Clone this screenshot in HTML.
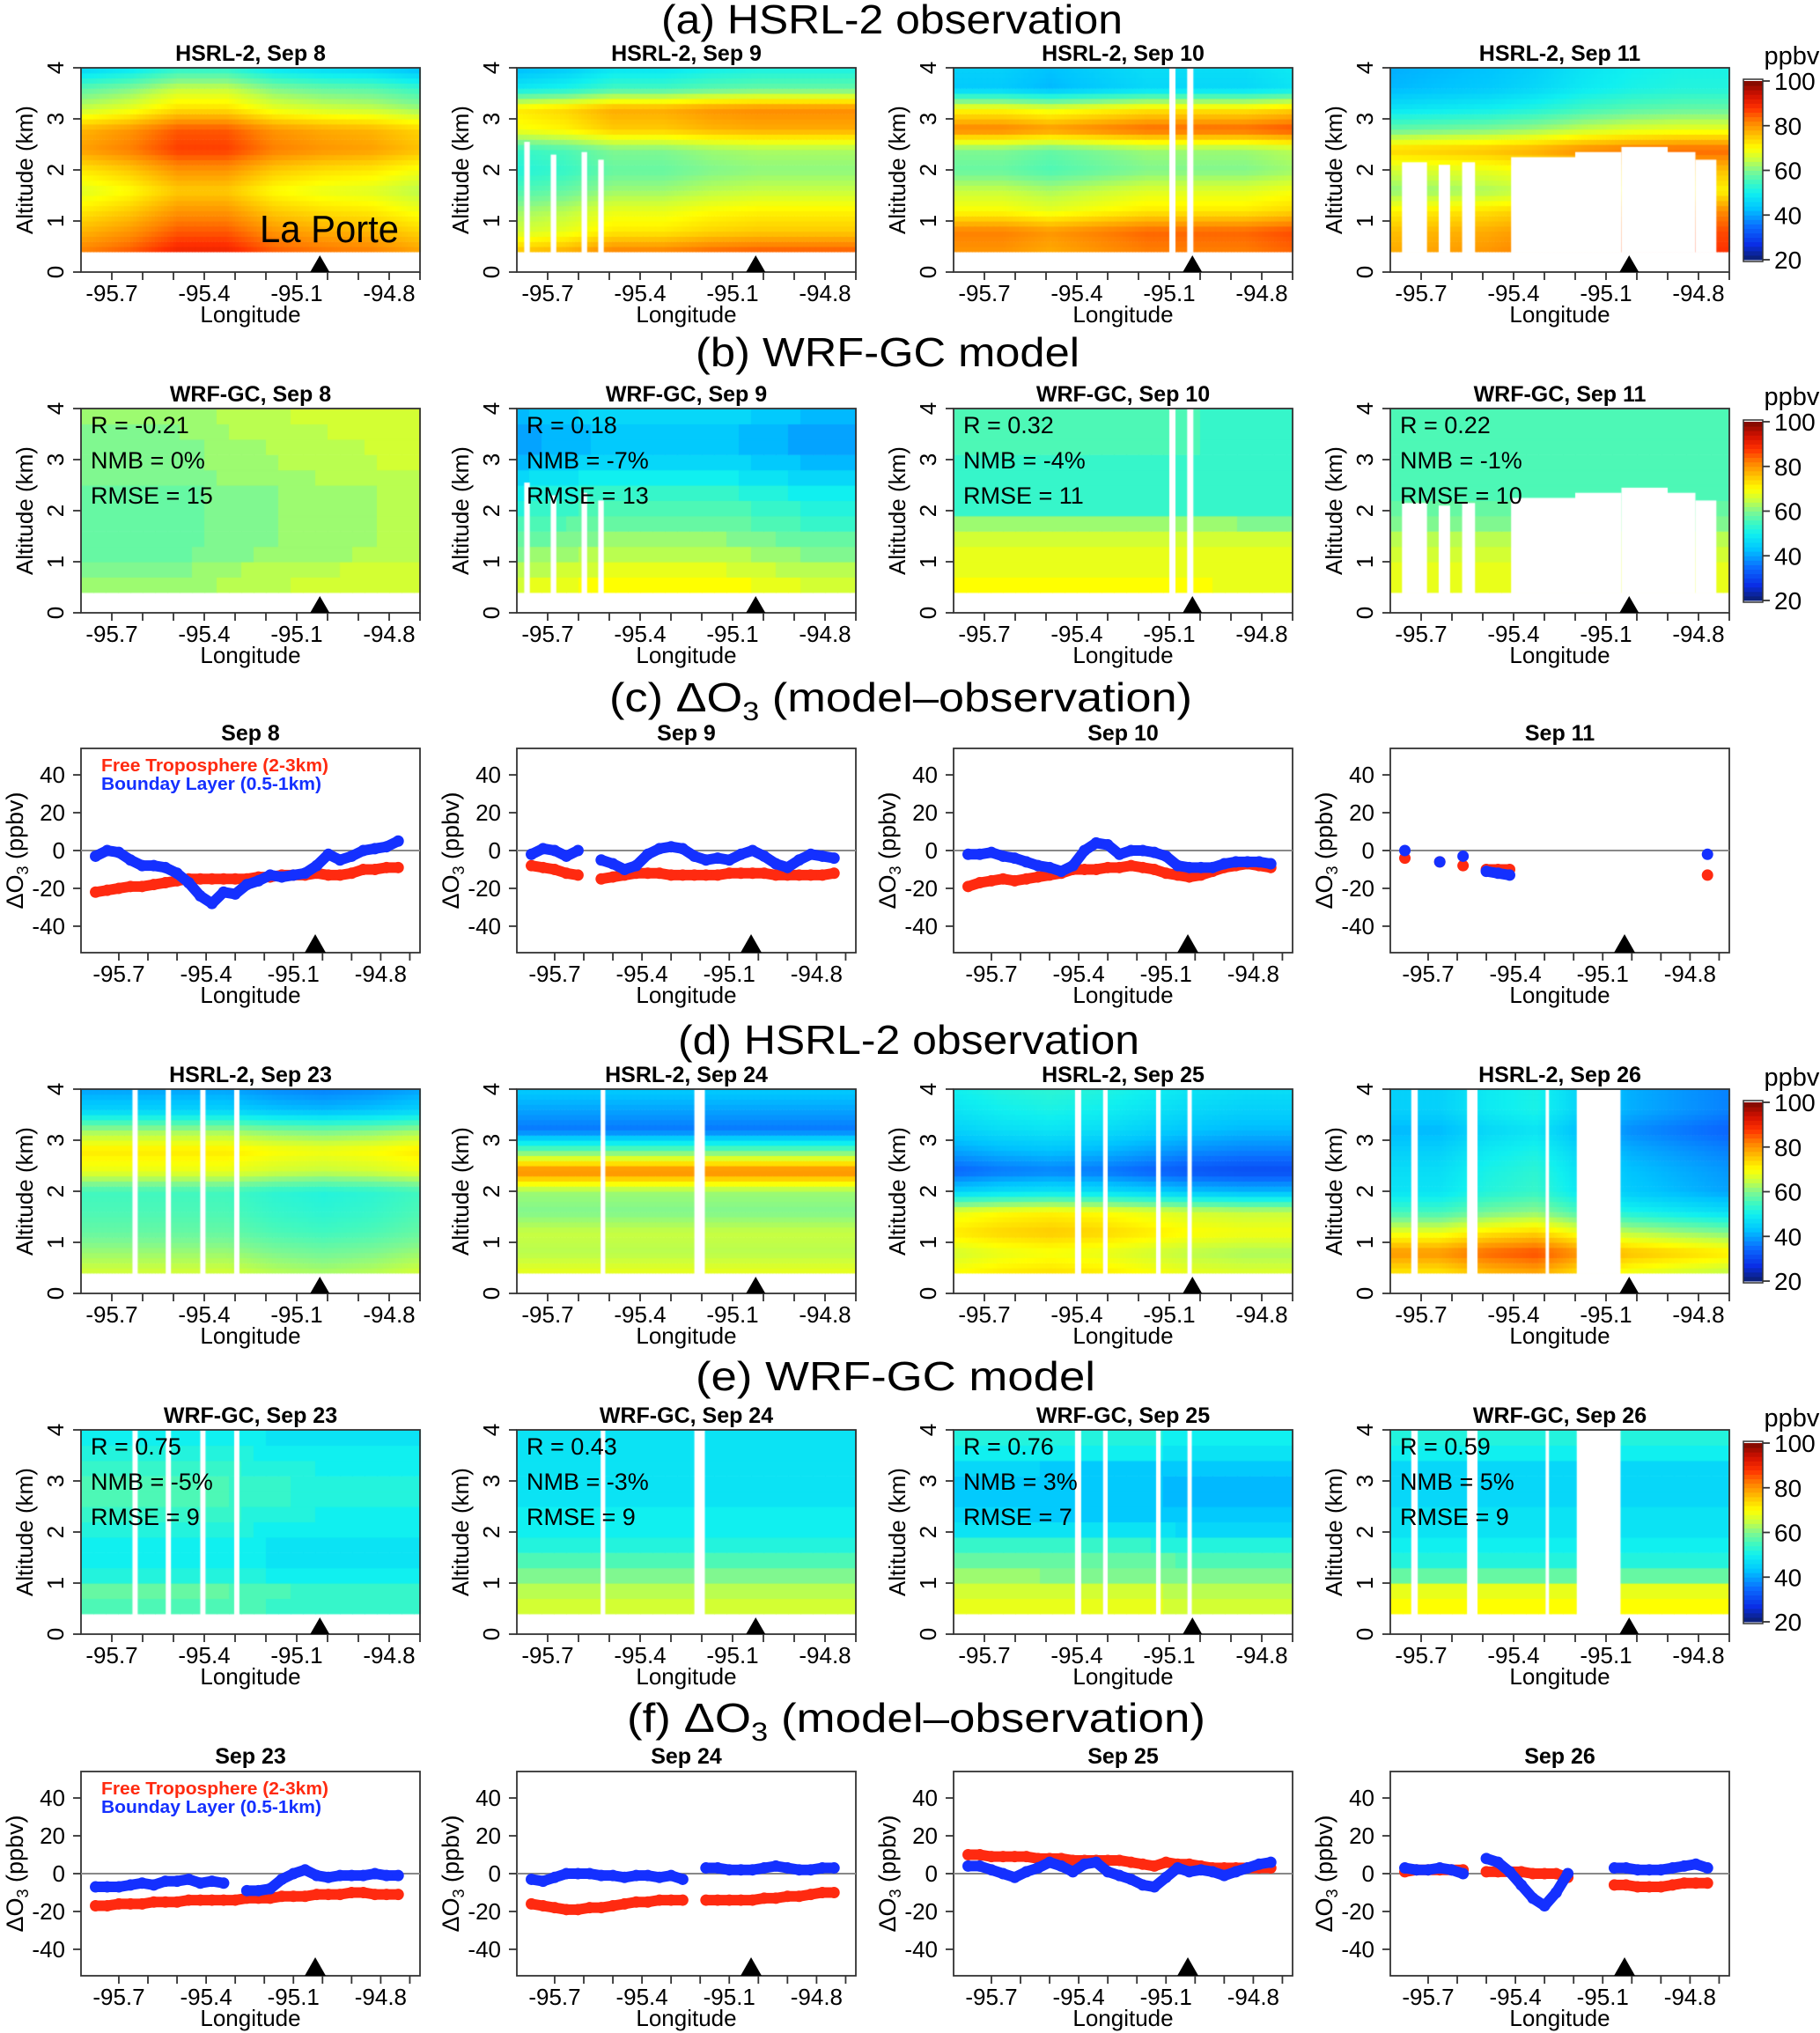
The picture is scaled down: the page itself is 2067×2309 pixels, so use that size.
<!DOCTYPE html>
<html><head><meta charset="utf-8">
<style>
html,body{margin:0;padding:0;background:#fff;}
#wrap{position:relative;width:2067px;height:2309px;overflow:hidden;}
#heat{position:absolute;left:0;top:0;}
#fig{position:absolute;left:0;top:0;}
text{font-family:"Liberation Sans",Arial,sans-serif;fill:#000;}
</style></head>
<body>
<div id="wrap">
<canvas id="heat" width="2067" height="2309"></canvas>
<svg id="fig" xmlns="http://www.w3.org/2000/svg" width="2067" height="2309" viewBox="0 0 2067 2309"></svg>
</div>
<script>
// ---------- data ----------
const altLevels = [0.4,0.8,1.2,1.6,2.0,2.4,2.8,3.2,3.6,4.0];
// observation profiles (ppbv at altLevels)
const obsSep8  = [85,80,75,70,75,82,80,68,60,48];
const obsSep9  = [82,72,68,62,58,60,75,78,55,48];
const obsSep10 = [80,82,70,65,58,60,82,70,44,45];
const obsSep11 = [82,80,75,65,70,78,62,52,46,45];
const obsSep23 = [66,62,58,56,55,68,72,62,45,40];
const obsSep24 = [68,64,65,60,62,82,58,36,40,44];
const obsSep25 = [70,66,72,68,45,34,40,45,48,50];
const obsSep26 = [72,80,68,55,48,47,45,42,45,45];
// longitude adjustments (8 evenly spaced nodes west->east)
const obsSep8Off  = [-3,0,5,5,0,-2,-3,-6];
const obsSep9Off  = [-6,-4,0,0,2,3,3,3];
const obsSep10Off = [0,0,-2,0,2,2,2,4];
const obsSep11Off = [-4,-3,-2,0,3,5,6,6];
const obsSep23Off = [0,0,0,0,-2,-3,-2,0];
const obsSep24Off = [0,0,0,0,0,0,0,0];
const obsSep25Off = [0,2,3,2,0,-2,-3,-3];
const obsSep26Off = [0,0,4,6,0,-4,-6,-8];
// model profiles
const modSep8  = [64,63,60,60,60,60,62,62,63,64];
const modSep9  = [70,66,62,58,55,52,46,42,42,46];
const modSep10 = [70,68,68,66,55,54,54,55,55,55];
const modSep11 = [68,68,66,62,58,56,56,56,56,56];
const modSep23 = [56,58,52,50,52,54,56,54,52,50];
const modSep24 = [66,64,60,52,50,50,48,47,47,47];
const modSep25 = [68,66,60,56,48,44,43,44,50,52];
const modSep26 = [70,70,56,50,48,48,45,45,50,52];
const modSep8Off  = [-2,-2,-2,0,1,2,3,3];
const modSep9Off  = [-2,0,2,2,2,0,-2,-2];
const modSep10Off = [0,0,0,0,0,0,-1,-1];
const modSep11Off = [0,0,0,0,0,0,0,0];
const modSep23Off = [0,0,0,0,-2,-3,-3,-3];
const modSep24Off = [0,0,0,0,0,0,0,0];
const modSep25Off = [1,1,0,0,0,-1,-1,-1];
const modSep26Off = [0,0,0,0,0,0,0,0];
// data gaps: [west lon, east lon, top altitude km]
const gapsSep8  = [];
const gapsSep9  = [[-95.776,-95.758,2.55],[-95.69,-95.672,2.3],[-95.59,-95.572,2.35],[-95.536,-95.518,2.2]];
const gapsSep10 = [[-95.10,-95.08,4],[-95.042,-95.022,4]];
const gapsSep11 = [[-95.762,-95.681,2.15],[-95.643,-95.606,2.1],[-95.567,-95.525,2.15],[-95.408,-95.2,2.25],[-95.2,-95.05,2.35],[-95.05,-94.9,2.45],[-94.9,-94.81,2.35],[-94.81,-94.742,2.2]];
const gapsSep23 = [[-95.633,-95.616,4],[-95.525,-95.508,4],[-95.413,-95.396,4],[-95.303,-95.286,4]];
const gapsSep24 = [[-95.528,-95.513,4],[-95.224,-95.19,4]];
const gapsSep25 = [[-95.406,-95.386,4],[-95.315,-95.30,4],[-95.143,-95.128,4],[-95.041,-95.027,4]];
const gapsSep26 = [[-95.732,-95.711,4],[-95.551,-95.517,4],[-95.296,-95.285,4],[-95.195,-95.053,4]];
const dayLabels1 = ['Sep 8','Sep 9','Sep 10','Sep 11'];
const dayLabels2 = ['Sep 23','Sep 24','Sep 25','Sep 26'];
const statR    = ['-0.21','0.18','0.32','0.22','0.75','0.43','0.76','0.59'];
const statNMB  = ['0%','-7%','-4%','-1%','-5%','-3%','3%','5%'];
const statRMSE = ['15','13','11','10','9','9','7','9'];
// delta O3 scatter data
const scatterLon = [-95.78,-95.74,-95.70,-95.66,-95.62,-95.58,-95.54,-95.50,-95.46,-95.42,-95.38,-95.34,-95.30,-95.26,-95.22,-95.18,-95.14,-95.10,-95.06,-95.02,-94.98,-94.94,-94.90,-94.86,-94.82,-94.78,-94.74];
const ftSep8  = [-22,-21,-20,-19,-19,-18,-17,-16,-15,-15,-15,-15,-15,-15,-14,-14,-13,-13,-13,-12,-13,-13,-12,-10,-10,-9,-9];
const blSep8  = [-3,0,-1,-5,-8,-8,-9,-12,-17,-24,-28,-22,-23,-18,-16,-13,-14,-13,-12,-8,-2,-5,-3,0,1,2,5];
const ftSep9  = [-8,-9,-10,-12,-13,null,-15,-14,-13,-12,-12,-12,-13,-13,-13,-13,-13,-12,-12,-12,-12,-13,-13,-13,-13,-13,-12];
const blSep9  = [-2,1,0,-3,0,null,-5,-7,-10,-8,-2,1,2,1,-3,-5,-4,-5,-2,0,-3,-7,-9,-5,-2,-3,-4];
const ftSep10 = [-19,-17,-16,-15,-16,-15,-14,-13,-12,-10,-10,-10,-9,-9,-8,-9,-10,-12,-13,-14,-13,-11,-9,-8,-7,-8,-9];
const blSep10 = [-2,-2,-1,-3,-4,-6,-8,-9,-11,-8,0,4,3,-2,0,0,-1,-3,-8,-9,-9,-9,-7,-6,-6,-6,-7];
const ftSep11 = [-4,null,null,-6,null,-8,null,-10,-10,-10,null,null,null,null,null,null,null,null,null,null,null,null,null,null,null,null,-13];
const blSep11 = [0,null,null,-6,null,-3,null,-11,-12,-13,null,null,null,null,null,null,null,null,null,null,null,null,null,null,null,null,-2];
const ftSep23 = [-17,-17,-16,-16,-16,-15,-15,-15,-14,-14,-14,-14,-14,-13,-13,-13,-12,-12,-12,-11,-11,-11,-10,-10,-11,-11,-11];
const blSep23 = [-7,-7,-7,-6,-5,-6,-4,-4,-3,-5,-4,-5,null,-9,-9,-8,-3,0,2,-1,-2,-1,-1,-1,0,-1,-1];
const ftSep24 = [-16,-17,-18,-19,-19,-18,-18,-17,-16,-15,-15,-14,-14,-14,null,-14,-14,-14,-14,-14,-13,-13,-12,-12,-11,-10,-10];
const blSep24 = [-3,-4,-2,0,0,0,-1,-1,-2,-1,-1,-2,-1,-3,null,3,3,2,2,2,3,4,3,2,2,3,3];
const ftSep25 = [10,10,9,9,9,9,8,8,8,7,7,7,7,7,6,5,4,6,5,5,4,3,3,3,3,3,3];
const blSep25 = [4,4,2,0,-2,1,3,6,4,1,5,6,1,-1,-3,-6,-7,-2,3,1,2,1,-1,1,3,5,6];
const ftSep26 = [1,2,2,2,2,2,null,1,1,1,1,0,0,0,-2,null,null,null,-6,-6,-7,-7,-7,-6,-5,-5,-5];
const blSep26 = [3,2,2,3,2,0,null,8,6,1,-6,-13,-17,-10,0,null,null,null,3,3,2,2,2,3,4,5,3];
const lonTickLabels = ['-95.7','-95.4','-95.1','-94.8'];
const lonTicks = [-95.7,-95.4,-95.1,-94.8];
const altTicks = [0,1,2,3,4];
const dTicks = [40,20,0,-20,-40];
const cbarTicks = [100,80,60,40,20];
const laPorteLon = -95.025;

// ---------- geometry ----------
const colLeft = [92,587,1083,1579];
const boxW = 385, heatH = 232, scatH = 232;
const heatLonMin = -95.80, heatLonMax = -94.70;
const scatLonMin = -95.83, scatLonMax = -94.665;
const dMin = -54, dMax = 54;
const colorStops = [[20,'#0b1f6e'],[27,'#0a2ee6'],[35,'#0a6cff'],[43,'#00c4ff'],[50,'#10f0f0'],[55,'#40f8c0'],[60,'#80f890'],[65,'#c8ff40'],[70,'#ffff00'],[76,'#ffc000'],[82,'#ff8000'],[88,'#ff3000'],[94,'#d01000'],[100,'#7a0a00']];

function hex2rgb(h){return [parseInt(h.substr(1,2),16),parseInt(h.substr(3,2),16),parseInt(h.substr(5,2),16)];}
function colorOf(v){
  if(v<=colorStops[0][0]) return colorStops[0][1];
  for(let i=1;i<colorStops.length;i++){
    if(v<=colorStops[i][0]){
      const a=colorStops[i-1],b=colorStops[i];const t=(v-a[0])/(b[0]-a[0]);
      const ca=hex2rgb(a[1]),cb=hex2rgb(b[1]);
      return 'rgb('+ca.map((c,k)=>Math.round(c+(cb[k]-c)*t)).join(',')+')';
    }
  }
  return colorStops[colorStops.length-1][1];
}
function interp(arr,xs,x){
  if(x<=xs[0]) return arr[0];
  for(let i=1;i<xs.length;i++){ if(x<=xs[i]){const t=(x-xs[i-1])/(xs[i]-xs[i-1]);return arr[i-1]+(arr[i]-arr[i-1])*t;} }
  return arr[arr.length-1];
}
const offNodes = [0,1,2,3,4,5,6,7].map(i=>heatLonMin+i*(heatLonMax-heatLonMin)/7);

const svg = document.getElementById('fig');
const NS='http://www.w3.org/2000/svg';
function mk(tag,attrs,parent){const e=document.createElementNS(NS,tag);for(const k in attrs)e.setAttribute(k,attrs[k]);(parent||svg).appendChild(e);return e;}
function txt(s,attrs,parent){const e=mk('text',attrs,parent);e.textContent=s;return e;}

const ctx = document.getElementById('heat').getContext('2d');

// ---------- big titles ----------
const bigTitles = [['(a) HSRL-2 observation',38,751,524],['(b) WRF-GC model',416,790,436],['(c) ',808,692,662],['(d) HSRL-2 observation',1197,770,524],['(e) WRF-GC model',1579,790,454],['(f) ',1967,712,657]];
bigTitles.forEach((b,i)=>{
  const t = mk('text',{x:b[2],y:b[1],'font-size':46,textLength:b[3],lengthAdjust:'spacingAndGlyphs'});
  
  
  if(b[0]==='(c) '||b[0]==='(f) '){
    t.appendChild(document.createTextNode(b[0]+'ΔO'));
    const s=document.createElementNS(NS,'tspan');s.setAttribute('font-size',30);s.setAttribute('dy',10);s.textContent='3';t.appendChild(s);
    const r=document.createElementNS(NS,'tspan');r.setAttribute('dy',-10);r.textContent=' (model–observation)';t.appendChild(r);
  } else t.textContent=b[0];
});

// ---------- heatmap panels ----------
const heatPanels = [
 {top:77, kind:'obs', title:'HSRL-2, ', days:dayLabels1, prof:[obsSep8,obsSep9,obsSep10,obsSep11], off:[obsSep8Off,obsSep9Off,obsSep10Off,obsSep11Off], gaps:[gapsSep8,gapsSep9,gapsSep10,gapsSep11]},
 {top:464, kind:'mod', title:'WRF-GC, ', days:dayLabels1, prof:[modSep8,modSep9,modSep10,modSep11], off:[modSep8Off,modSep9Off,modSep10Off,modSep11Off], gaps:[gapsSep8,gapsSep9,gapsSep10,gapsSep11], stat:0},
 {top:1237, kind:'obs', title:'HSRL-2, ', days:dayLabels2, prof:[obsSep23,obsSep24,obsSep25,obsSep26], off:[obsSep23Off,obsSep24Off,obsSep25Off,obsSep26Off], gaps:[gapsSep23,gapsSep24,gapsSep25,gapsSep26]},
 {top:1624, kind:'mod', title:'WRF-GC, ', days:dayLabels2, prof:[modSep23,modSep24,modSep25,modSep26], off:[modSep23Off,modSep24Off,modSep25Off,modSep26Off], gaps:[gapsSep23,gapsSep24,gapsSep25,gapsSep26], stat:4}
];

heatPanels.forEach((row,ri)=>{
  for(let c=0;c<4;c++){
    const L=colLeft[c], T=row.top;
    const xOf=lon=>L+(lon-heatLonMin)/(heatLonMax-heatLonMin)*boxW;
    const yOf=alt=>T+heatH-alt*heatH/4;
    const dlon = row.kind==='obs'?0.01:0.04, dalt = row.kind==='obs'?0.1:0.3;
    for(let lon=heatLonMin; lon<heatLonMax-1e-9; lon+=dlon){
      const lc=lon+dlon/2;
      for(let alt=0.4; alt<4-1e-9; alt+=dalt){
        const a2=Math.min(alt+dalt,4);
        const ac=(alt+a2)/2;
        const v=interp(row.prof[c],altLevels,ac)+interp(row.off[c],offNodes,lc);
        ctx.fillStyle=colorOf(row.kind==='mod'?Math.round(v/2)*2:v);
        const x0=xOf(lon), x1=xOf(Math.min(lon+dlon,heatLonMax));
        ctx.fillRect(x0,yOf(a2),x1-x0+0.6,yOf(alt)-yOf(a2)+0.6);
      }
    }
    ctx.fillStyle='#fff';
    row.gaps[c].forEach(g=>{ctx.fillRect(xOf(g[0]),yOf(g[2]),xOf(g[1])-xOf(g[0]),yOf(0.38)-yOf(g[2]));});
    const g = mk('g',{});
    
    
    const ttl = txt(row.title+row.days[c],{x:L+boxW/2,y:T-8,'font-size':25,'font-weight':'bold','text-anchor':'middle'},g);
    
    
    const box = mk('rect',{x:L,y:T,width:boxW,height:heatH,fill:'none',stroke:'#333','stroke-width':1.8},g);
    
    
    altTicks.forEach(a=>{
      mk('line',{x1:L-9,x2:L,y1:yOf(a),y2:yOf(a),stroke:'#333','stroke-width':1.8},g);
      const tl = txt(String(a),{x:0,y:0,'font-size':26,'text-anchor':'middle',transform:'translate('+(L-20)+','+yOf(a)+') rotate(-90)'},g);
      
      
    });
    const yl = txt('Altitude (km)',{x:0,y:0,'font-size':26,'text-anchor':'middle',transform:'translate('+(L-55)+','+(T+heatH/2)+') rotate(-90)'},g);
    
    
    for(let k=0;k<=10;k++){const lon=-95.7+k*0.1;mk('line',{x1:xOf(lon),x2:xOf(lon),y1:T+heatH,y2:T+heatH+9,stroke:'#333','stroke-width':1.8},g);}
    lonTicks.forEach((lon,k)=>{
      const tl = txt(lonTickLabels[k],{x:xOf(lon),y:T+heatH+33,'font-size':26,'text-anchor':'middle'},g);
      
      
    });
    const xl = txt('Longitude',{x:L+boxW/2,y:T+heatH+57,'font-size':26,'text-anchor':'middle'},g);
    
    
    const tx=xOf(laPorteLon), by=T+heatH;
    const tri = mk('polygon',{points:(tx-11)+','+by+' '+(tx+11)+','+by+' '+tx+','+(by-19),fill:'#000'},g);
    
    
    if(row.kind==='mod'){
      const si=row.stat+c;
      const lines=['R = '+statR[si],'NMB = '+statNMB[si],'RMSE = '+statRMSE[si]];
      lines.forEach((s,k)=>{
        const st = txt(s,{x:L+11,y:T+28+k*40,'font-size':27},g);
        
        
      });
    }
    if(ri===0&&c===0){
      const lp = txt('La Porte',{x:295,y:275,'font-size':44,textLength:158,lengthAdjust:'spacingAndGlyphs'},g);
      
      
    }
  }
  const cb = mk('g',{});
  
  
  const T=row.top;
  const cy=v=>T+15+(100-v)/80*203;
  for(let v=20; v<100; v+=2){
    mk('rect',{x:1980,y:cy(v+2),width:22,height:cy(v)-cy(v+2)+0.5,fill:colorOf(v+1)},cb);
  }
  mk('rect',{x:1980,y:cy(100)-2,width:22,height:cy(20)-cy(100)+4,fill:'none',stroke:'#333','stroke-width':1.5},cb);
  cbarTicks.forEach(v=>{
    mk('line',{x1:2002,x2:2010,y1:cy(v),y2:cy(v),stroke:'#333','stroke-width':1.8},cb);
    const l = txt(String(v),{x:2015,y:cy(v)+10,'font-size':28},cb);
    
    
  });
  const un = txt('ppbv',{x:2035,y:T-4,'font-size':29,'text-anchor':'middle'},cb);
  
  
});

// ---------- scatter panels ----------
const scatterRows = [
 {top:850, days:dayLabels1, ft:[ftSep8,ftSep9,ftSep10,ftSep11], bl:[blSep8,blSep9,blSep10,blSep11]},
 {top:2012, days:dayLabels2, ft:[ftSep23,ftSep24,ftSep25,ftSep26], bl:[blSep23,blSep24,blSep25,blSep26]}
];
const ftColor='#ff2a10', blColor='#1430ff';
scatterRows.forEach((row,ri)=>{
  for(let c=0;c<4;c++){
    const L=colLeft[c], T=row.top;
    const xOf=lon=>L+(lon-scatLonMin)/(scatLonMax-scatLonMin)*boxW;
    const yOf=d=>T+(dMax-d)/(dMax-dMin)*scatH;
    const g=mk('g',{});
    
    
    const ttl = txt(row.days[c],{x:L+boxW/2,y:T-9,'font-size':25,'font-weight':'bold','text-anchor':'middle'},g);
    
    
    const box = mk('rect',{x:L,y:T,width:boxW,height:scatH,fill:'none',stroke:'#333','stroke-width':1.8},g);
    
    
    const zl = mk('line',{x1:L,x2:L+boxW,y1:yOf(0),y2:yOf(0),stroke:'#888','stroke-width':2},g);
    
    
    dTicks.forEach(d=>{
      mk('line',{x1:L-9,x2:L,y1:yOf(d),y2:yOf(d),stroke:'#333','stroke-width':1.8},g);
      const tl = txt(String(d),{x:L-18,y:yOf(d)+9,'font-size':26,'text-anchor':'end'},g);
      
      
    });
    const yl = mk('text',{x:0,y:0,'font-size':27,'text-anchor':'middle',transform:'translate('+(L-66)+','+(T+scatH/2)+') rotate(-90)'},g);
    
    
    yl.appendChild(document.createTextNode('ΔO'));
    const sb=document.createElementNS(NS,'tspan');sb.setAttribute('font-size',18);sb.setAttribute('dy',6);sb.textContent='3';yl.appendChild(sb);
    const rs=document.createElementNS(NS,'tspan');rs.setAttribute('dy',-6);rs.textContent=' (ppbv)';yl.appendChild(rs);
    for(let k=0;k<=10;k++){const lon=-95.7+k*0.1;mk('line',{x1:xOf(lon),x2:xOf(lon),y1:T+scatH,y2:T+scatH+9,stroke:'#333','stroke-width':1.8},g);}
    lonTicks.forEach((lon,k)=>{
      const tl = txt(lonTickLabels[k],{x:xOf(lon),y:T+scatH+33,'font-size':26,'text-anchor':'middle'},g);
      
      
    });
    const xl = txt('Longitude',{x:L+boxW/2,y:T+scatH+57,'font-size':26,'text-anchor':'middle'},g);
    
    
    const tx=xOf(laPorteLon), by=T+scatH;
    const tri = mk('polygon',{points:(tx-12)+','+by+' '+(tx+12)+','+by+' '+tx+','+(by-21),fill:'#000'},g);
    
    
    [[row.ft[c],ftColor,'free-troposphere'],[row.bl[c],blColor,'boundary-layer']].forEach(s=>{
      const vals=s[0];
      const sg=mk('g',{},g);
      
      
      for(let i=1;i<vals.length;i++){
        if(vals[i]!==null&&vals[i-1]!==null){
          mk('line',{x1:xOf(scatterLon[i-1]),y1:yOf(vals[i-1]),x2:xOf(scatterLon[i]),y2:yOf(vals[i]),stroke:s[1],'stroke-width':12,'stroke-linecap':'round'},sg);
        }
      }
      vals.forEach((v,i)=>{
        if(v===null) return;
        const pt = mk('circle',{cx:xOf(scatterLon[i]),cy:yOf(v),r:6.5,fill:s[1]},sg);
        
        
      });
    });
    if(c===0){
      const l1 = txt('Free Troposphere (2-3km)',{x:L+23,y:T+26,'font-size':20,'font-weight':'bold',fill:ftColor,textLength:258,lengthAdjust:'spacingAndGlyphs'},g);
      
      
      l1.style.fill=ftColor;
      const l2 = txt('Bounday Layer (0.5-1km)',{x:L+23,y:T+47,'font-size':20,'font-weight':'bold',fill:blColor,textLength:250,lengthAdjust:'spacingAndGlyphs'},g);
      
      
      l2.style.fill=blColor;
    }
  }
});
</script>
</body></html>
